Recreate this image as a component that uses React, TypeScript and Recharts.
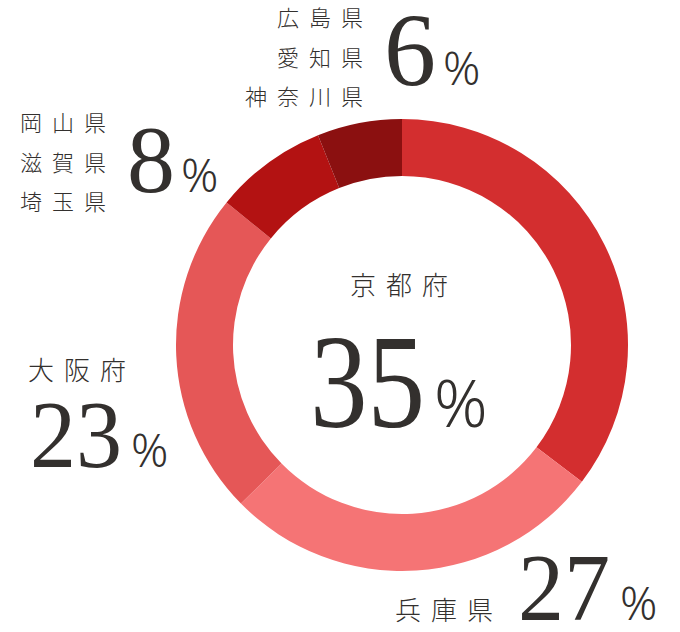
import { PieChart, Pie, Cell } from 'recharts';

document.body.style.margin = '0';

const regions = ['京都府', '兵庫県', '大阪府', '岡山県', '広島県'];
const shares = [35, 27, 23, 8, 6];
const colors = ['#d32e2f', '#f57475', '#e55757', '#b31212', '#8b1010'];
const groupWest = ['岡山県', '滋賀県', '埼玉県'];
const groupNorth = ['広島県', '愛知県', '神奈川県'];

const pieData = regions.map((name, i) => ({ name, value: shares[i] }));

const INK = '#33302e';
const JP = '"Noto Sans CJK JP", "Noto Sans", sans-serif';
const NUM = '"Liberation Serif", "DejaVu Serif", serif';
const PCT = '"Noto Sans", "Open Sans", sans-serif';

function Share({ x, y, value, size, pctX, pctSize, squeeze = 1 }: { x: number; y: number; value: number; size: number; pctX: number; pctSize: number; squeeze?: number }) {
  return (
    <g fill={INK}>
      <text transform={`translate(${x},${y}) scale(${squeeze},1)`} fontFamily={NUM} fontSize={size}>
        {value}
      </text>
      <text x={pctX} y={y} fontFamily={PCT} fontWeight={300} fontSize={pctSize}>
        %
      </text>
    </g>
  );
}

function Label({ x, y, text, size, spacing, anchor = 'start' }: { x: number; y: number; text: string; size: number; spacing: number; anchor?: 'start' | 'end' }) {
  return (
    <text x={x} y={y} fill={INK} fontFamily={JP} fontWeight={300} fontSize={size} letterSpacing={spacing} textAnchor={anchor}>
      {text}
    </text>
  );
}

export default function App() {
  return (
    <div style={{ position: 'relative', width: 680, height: 632, background: '#fff' }}>
      <PieChart width={680} height={632} margin={{ top: 0, right: 0, bottom: 0, left: 0 }}>
        <Pie
          data={pieData}
          dataKey="value"
          cx={402}
          cy={345}
          innerRadius={169}
          outerRadius={226}
          startAngle={90}
          endAngle={-270}
          stroke="none"
          isAnimationActive={false}
        >
          {pieData.map((d, i) => (
            <Cell key={d.name} fill={colors[i]} />
          ))}
        </Pie>
      </PieChart>
      <svg width={680} height={632} style={{ position: 'absolute', left: 0, top: 0, pointerEvents: 'none' }}>
        {groupNorth.map((t, i) => (
          <Label key={t} x={373} y={26 + i * 39.5} text={t} size={22} spacing={10} anchor="end" />
        ))}
        {groupWest.map((t, i) => (
          <Label key={t} x={20} y={131 + i * 39.5} text={t} size={22} spacing={10} />
        ))}
        <Label x={350} y={295} text={regions[0]} size={26} spacing={10} />
        <Label x={28} y={380} text={regions[2]} size={26} spacing={10} />
        <Label x={395} y={620} text={regions[1]} size={26} spacing={10} />

        <Share x={384} y={85} value={shares[4]} size={104} pctX={443} pctSize={46} />
        <Share x={127} y={192} value={shares[3]} size={96} pctX={181} pctSize={46} />
        <Share x={310} y={427} value={shares[0]} size={134} pctX={434} pctSize={66} squeeze={0.86} />
        <Share x={30} y={467} value={shares[2]} size={96} pctX={131} pctSize={46} squeeze={0.96} />
        <Share x={518} y={620} value={shares[1]} size={96} pctX={620} pctSize={46} squeeze={0.96} />
      </svg>
    </div>
  );
}
